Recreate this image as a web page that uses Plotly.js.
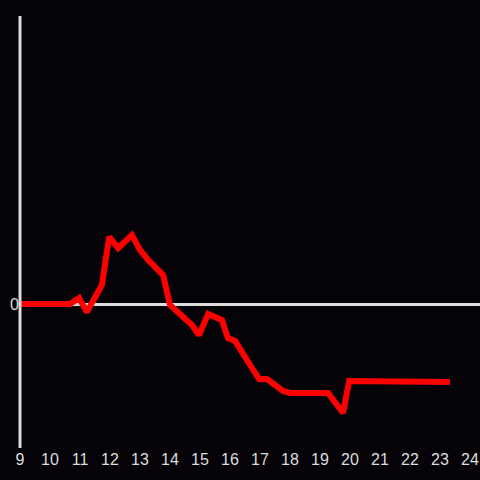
<!DOCTYPE html>
<html>
<head>
<meta charset="utf-8">
<script src="https://cdn.plot.ly/plotly-3.0.1.min.js"></script>
<style>html,body{margin:0;padding:0;background:#050308;}</style>
</head>
<body>
<div id="chart" style="width:480px;height:480px;"></div>
<script>
const hours = [9, 10.67, 10.97, 11.23, 11.73, 11.97, 12.27, 12.73, 13.0, 13.3, 13.77, 14.0, 14.73, 14.97, 15.27, 15.73, 15.93, 16.17, 16.67, 16.97, 17.23, 17.77, 18.0, 19.27, 19.77, 19.97, 23.33];
const values = [0, 0, 0.6, -0.8, 1.9, 6.7, 5.6, 6.9, 5.4, 4.3, 2.9, -0.1, -2.1, -3.1, -1.0, -1.6, -3.4, -3.7, -6.1, -7.5, -7.5, -8.7, -8.9, -8.9, -10.9, -7.7, -7.8];
const xTicks = [9,10,11,12,13,14,15,16,17,18,19,20,21,22,23,24];
const yTicks = [0];

Plotly.newPlot('chart', [{
  x: hours, y: values, type: 'scatter', mode: 'lines',
  line: {color: '#ff0000', width: 6}, hoverinfo: 'none'
}], {
  width: 480, height: 480,
  paper_bgcolor: '#050308', plot_bgcolor: '#050308',
  margin: {l: 20, r: 0, t: 16, b: 32},
  showlegend: false,
  font: {color: '#dddddd', size: 16, family: 'Liberation Sans, Arial, sans-serif'},
  xaxis: {range: [9, 24.333], tickvals: xTicks, ticktext: xTicks.map(String),
    showgrid: false, zeroline: false, showline: false, ticks: '', ticklen: 0},
  yaxis: {range: [-14.4, 28.8], tickvals: yTicks, ticktext: ['0'],
    showgrid: false, zeroline: true, zerolinecolor: '#dddddd', zerolinewidth: 3,
    showline: false, ticks: '', ticklen: 0},
  shapes: [{type: 'line', xref: 'paper', yref: 'paper', x0: 0, x1: 0, y0: 0, y1: 1,
    line: {color: '#dddddd', width: 3}, layer: 'above'}]
}, {staticPlot: true});
</script>
</body>
</html>
